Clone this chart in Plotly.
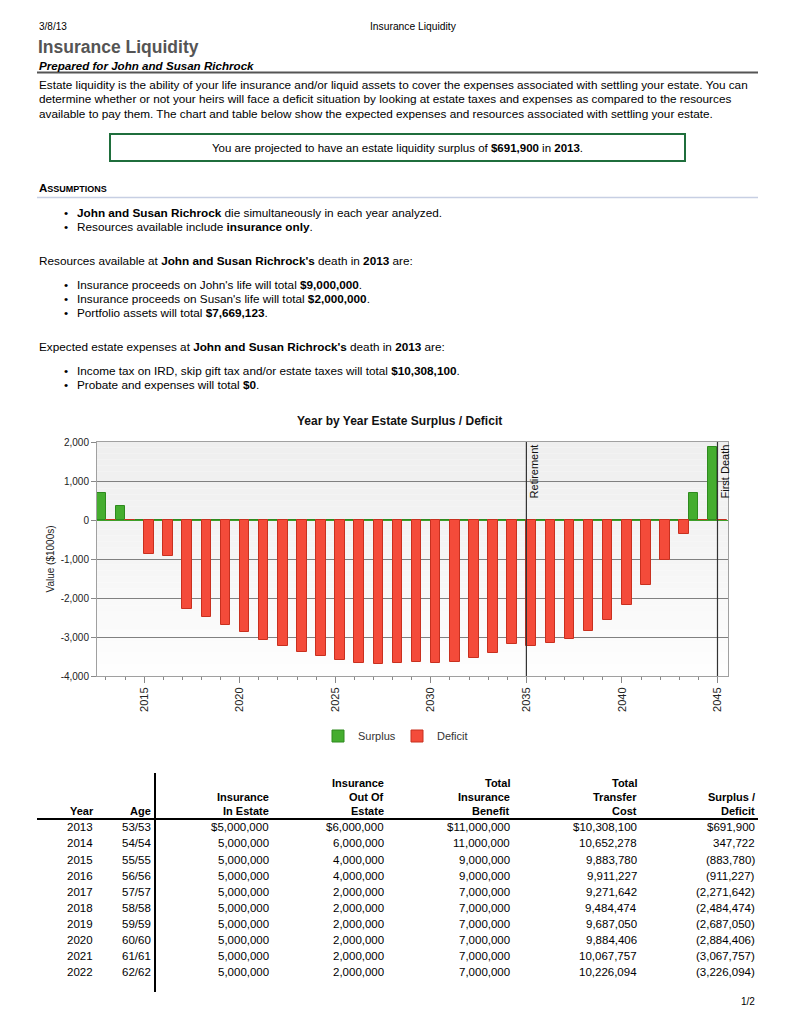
import plotly.graph_objects as go

# ---------------- data ----------------
chart_years = [2013, 2014, 2015, 2016, 2017, 2018, 2019, 2020, 2021, 2022, 2023,
               2024, 2025, 2026, 2027, 2028, 2029, 2030, 2031, 2032, 2033, 2034,
               2035, 2036, 2037, 2038, 2039, 2040, 2041, 2042, 2043, 2044, 2045]
net_k = [691.9, 347.7, -883.8, -911.2, -2271.6, -2484.5, -2687.1, -2884.4, -3067.8,
         -3226.1, -3385, -3479, -3590, -3658, -3684, -3658, -3632, -3658, -3632,
         -3547, -3402, -3179, -3222, -3154, -3043, -2855, -2564, -2171, -1675,
         -1034, -350, 684, 1863]
y_tickvals = [2000, 1000, 0, -1000, -2000, -3000, -4000]
y_ticktext = ["2,000", "1,000", "0", "-1,000", "-2,000", "-3,000", "-4,000"]
x_tickvals = [2015, 2020, 2025, 2030, 2035, 2040, 2045]
events = [(2035, "Retirement"), (2045, "First Death")]

tbl_years = [2013, 2014, 2015, 2016, 2017, 2018, 2019, 2020, 2021, 2022]
tbl_ages = ["53/53", "54/54", "55/55", "56/56", "57/57", "58/58", "59/59", "60/60", "61/61", "62/62"]
tbl_ins_in = [5000000, 5000000, 5000000, 5000000, 5000000, 5000000, 5000000, 5000000, 5000000, 5000000]
tbl_ins_out = [6000000, 6000000, 4000000, 4000000, 2000000, 2000000, 2000000, 2000000, 2000000, 2000000]
tbl_benefit = [11000000, 11000000, 9000000, 9000000, 7000000, 7000000, 7000000, 7000000, 7000000, 7000000]
tbl_cost = [10308100, 10652278, 9883780, 9911227, 9271642, 9484474, 9687050, 9884406, 10067757, 10226094]
tbl_surplus = [691900, 347722, -883780, -911227, -2271642, -2484474, -2687050, -2884406, -3067757, -3226094]

surplus_k = [v if v > 0 else 0 for v in net_k]
deficit_k = [v if v < 0 else 0 for v in net_k]

# ---------------- layout helpers ----------------
OFF = 8                      # page body margin of the html page
FIG_W, FIG_H = 794 - 2 * OFF, 1028 - 2 * OFF
L, T, W, H = 97 - OFF, 442 - OFF, 631, 234
FONT = "Arial, Liberation Sans, sans-serif"


def X(px):
    return (px - OFF - L) / W


def Y(py):
    return (T + H - (py - OFF)) / H


fig = go.Figure()
fig.add_trace(go.Bar(x=chart_years, y=surplus_k, name="Surplus",
                     marker=dict(color="#45ad2f", line=dict(color="#2e8a1e", width=1))))
fig.add_trace(go.Bar(x=chart_years, y=deficit_k, name="Deficit",
                     marker=dict(color="#f44b3a", line=dict(color="#c8301f", width=1))))

annotations = []
shapes = []


def txt(x, y, text, size=12, anchor="left", color="#000", bold=False, **kw):
    if bold:
        text = "<b>" + text + "</b>"
    annotations.append(dict(x=X(x), y=Y(y), xref="paper", yref="paper", text=text,
                            showarrow=False, xanchor=anchor, yanchor="middle",
                            font=dict(family=FONT, size=size, color=color), **kw))


def hline(x0, x1, y, color, width):
    shapes.append(dict(type="line", xref="paper", yref="paper", x0=X(x0), x1=X(x1),
                       y0=Y(y), y1=Y(y), line=dict(color=color, width=width)))


# header
txt(37, 26, "3/8/13", size=10)
txt(413, 26, "Insurance Liquidity", size=10.3, anchor="center")
txt(36, 47, "Insurance Liquidity", size=17.5, color="#555555", bold=True)
txt(37, 65, "<i>Prepared for John and Susan Richrock</i>", size=11.6, bold=True)
hline(37, 758, 72.5, "#555555", 2)

para = ["Estate liquidity is the ability of your life insurance and/or liquid assets to cover the expenses associated with settling your estate. You can",
        "determine whether or not your heirs will face a deficit situation by looking at estate taxes and expenses as compared to the resources",
        "available to pay them. The chart and table below show the expected expenses and resources associated with settling your estate."]
for i, line in enumerate(para):
    txt(37, 84 + i * 14.5, line, size=11.75)

shapes.append(dict(type="rect", xref="paper", yref="paper", x0=X(110), x1=X(685),
                   y0=Y(161), y1=Y(134), line=dict(color="#1f6e3c", width=2)))
txt(397, 147.5, "You are projected to have an estate liquidity surplus of <b>$691,900</b> in <b>2013</b>.",
    size=11.5, anchor="center")

txt(37, 188, "<b>A<span style='font-size:9px'>SSUMPTIONS</span></b>", size=11.5)
hline(37, 758, 197.5, "#c7cfe3", 1.5)

bullets = [
    (212, "<b>John and Susan Richrock</b> die simultaneously in each year analyzed."),
    (226.5, "Resources available include <b>insurance only</b>."),
    (284.3, "Insurance proceeds on John's life will total <b>$9,000,000</b>."),
    (298.5, "Insurance proceeds on Susan's life will total <b>$2,000,000</b>."),
    (312.7, "Portfolio assets will total <b>$7,669,123</b>."),
    (370, "Income tax on IRD, skip gift tax and/or estate taxes will total <b>$10,308,100</b>."),
    (384, "Probate and expenses will total <b>$0</b>."),
]
for yy, t in bullets:
    txt(62, yy, "•", size=11.75)
    txt(75, yy, t, size=11.75)
txt(37, 260.7, "Resources available at <b>John and Susan Richrock's</b> death in <b>2013</b> are:", size=11.75)
txt(37, 346.7, "Expected estate expenses at <b>John and Susan Richrock's</b> death in <b>2013</b> are:", size=11.75)

# chart title
txt(399, 421, "Year by Year Estate Surplus / Deficit", size=12, anchor="center", bold=True, color="#111")

# plot background gradient bands
nb = 40
for i in range(nb):
    t0 = i / nb
    g = int(round(239 + 16 * (t0 ** 1.3)))
    shapes.append(dict(type="rect", xref="paper", yref="y", x0=0, x1=1,
                       y0=2000 - 6000 * i / nb, y1=2000 - 6000 * (i + 1) / nb,
                       fillcolor=f"rgb({g},{g},{g})", line=dict(width=0), layer="below"))

# event lines
for yr, label in events:
    shapes.append(dict(type="line", xref="x", yref="y", x0=yr, x1=yr, y0=-4000, y1=2000,
                       line=dict(color="#333333", width=1.2)))
    annotations.append(dict(x=yr, y=2000, xref="x", yref="y", text=label, textangle=-90,
                            showarrow=False, xanchor="left", yanchor="top",
                            font=dict(family=FONT, size=11, color="#111")))

# table
hdr = [
    (96, ["", "", "Year"]),
    (153, ["", "", "Age"]),
    (271, ["", "Insurance", "In Estate"]),
    (386, ["Insurance", "Out Of", "Estate"]),
    (512, ["Total", "Insurance", "Benefit"]),
    (639, ["Total", "Transfer", "Cost"]),
    (757, ["", "Surplus /", "Deficit"]),
]
for xr, lines in hdr:
    for j, s in enumerate(lines):
        if s:
            txt(xr, 783 + j * 14, s, size=11, anchor="right", bold=True)
hline(37, 758, 819, "#000000", 2)
shapes.append(dict(type="line", xref="paper", yref="paper", x0=X(155), x1=X(155),
                   y0=Y(773), y1=Y(992), line=dict(color="#000000", width=2)))


def money(v, first):
    s = f"{abs(v):,}"
    if first:
        s = "$" + s
    return f"({s})" if v < 0 else s


for i in range(len(tbl_years)):
    yy = 827.3 + i * 16.1
    first = i == 0
    txt(95, yy, str(tbl_years[i]), size=11.5, anchor="right")
    txt(153, yy, tbl_ages[i], size=11.5, anchor="right")
    txt(271, yy, money(tbl_ins_in[i], first), size=11.5, anchor="right")
    txt(386, yy, money(tbl_ins_out[i], first), size=11.5, anchor="right")
    txt(512, yy, money(tbl_benefit[i], first), size=11.5, anchor="right")
    txt(639, yy, money(tbl_cost[i], first), size=11.5, anchor="right")
    txt(757, yy, money(tbl_surplus[i], first), size=11.5, anchor="right")

txt(757, 1001, "1/2", size=10, anchor="right")

fig.update_layout(
    width=FIG_W, height=FIG_H,
    margin=dict(l=L, r=FIG_W - L - W, t=T, b=FIG_H - T - H, pad=0),
    paper_bgcolor="white", plot_bgcolor="#fdfdfd",
    barmode="group", bargap=0, bargroupgap=0,
    font=dict(family=FONT, size=10, color="#222"),
    showlegend=True,
    legend=dict(orientation="h", x=X(397), y=Y(736), xanchor="center", yanchor="middle",
                font=dict(family=FONT, size=11, color="#333"), itemwidth=30,
                entrywidth=34, bgcolor="rgba(0,0,0,0)"),
    annotations=annotations, shapes=shapes,
    xaxis=dict(range=[2012.53, 2045.55], tickvals=x_tickvals, tickangle=-90,
               ticks="outside", ticklen=6, tickcolor="#888", showgrid=False,
               showline=True, linecolor="#a0a0a0", mirror=True, zeroline=False,
               tickfont=dict(family=FONT, size=11, color="#222"),
               minor=dict(dtick=1, tick0=2013, ticks="outside", ticklen=3, tickcolor="#888")),
    yaxis=dict(range=[-4000, 2000], tickvals=y_tickvals, ticktext=y_ticktext,
               ticks="outside", ticklen=5, tickcolor="#888", showgrid=True,
               gridcolor="#808080", gridwidth=1, showline=True, linecolor="#a0a0a0",
               mirror=True, zeroline=True, zerolinecolor="#3f9f2a", zerolinewidth=1,
               tickfont=dict(family=FONT, size=10, color="#222"),
               title=dict(text="Value ($1000s)", font=dict(family=FONT, size=10, color="#222"),
                          standoff=4)),
)

fig.write_html("out.html")
